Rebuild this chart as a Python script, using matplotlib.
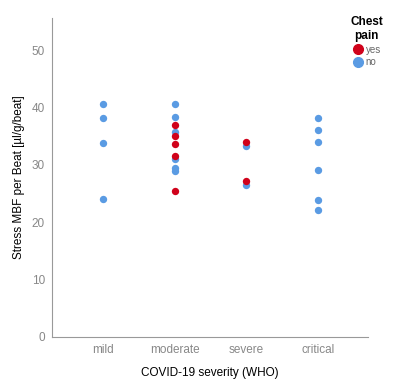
import matplotlib
matplotlib.use("Agg")
import matplotlib.pyplot as plt
from matplotlib.lines import Line2D

plt.rcParams['font.family'] = ['Liberation Sans', 'DejaVu Sans']

categories = ["mild", "moderate", "severe", "critical"]

# chest pain = no
no_cat = ["mild", "mild", "mild", "mild",
          "moderate", "moderate", "moderate", "moderate", "moderate", "moderate",
          "severe", "severe",
          "critical", "critical", "critical", "critical", "critical", "critical"]
no_val = [40.6, 38.2, 33.8, 24.0,
          40.6, 38.4, 35.7, 31.0, 29.4, 29.0,
          33.3, 26.5,
          38.1, 36.1, 34.0, 29.1, 23.9, 22.1]

# chest pain = yes
yes_cat = ["moderate", "moderate", "moderate", "moderate", "moderate",
           "severe", "severe"]
yes_val = [36.9, 35.0, 33.6, 31.6, 25.5,
           33.9, 27.1]

yticks = [0, 10, 20, 30, 40, 50]

blue = "#5A9BE3"
red = "#D0021B"

fig = plt.figure(figsize=(4.0, 3.82), dpi=100)
ax = fig.add_axes([0.13, 0.118, 0.79, 0.835])

xpos = {c: i for i, c in enumerate(categories)}
ax.scatter([xpos[c] for c in no_cat], no_val, s=28, color=blue, linewidths=0, zorder=3)
ax.scatter([xpos[c] for c in yes_cat], yes_val, s=28, color=red, linewidths=0, zorder=4)

ax.set_xlim(-0.71, 3.70)
ax.set_ylim(0, 55.6)
ax.set_xticks(range(len(categories)))
ax.set_xticklabels(categories)
ax.set_yticks(yticks)
ax.tick_params(axis='both', length=0, labelsize=8.5, labelcolor='#888888', pad=5)
for s in ['top', 'right']:
    ax.spines[s].set_visible(False)
for s in ['left', 'bottom']:
    ax.spines[s].set_color('#999999')
    ax.spines[s].set_linewidth(0.8)

ax.set_xlabel("COVID-19 severity (WHO)", fontsize=8.5, labelpad=8)
ax.set_ylabel("Stress MBF per Beat [µl/g/beat]", fontsize=8.5, labelpad=5)

handles = [Line2D([], [], marker='o', linestyle='', color=red, markersize=7, label='yes'),
           Line2D([], [], marker='o', linestyle='', color=blue, markersize=7, label='no')]
leg = fig.legend(handles=handles, title="Chest\npain", loc='upper right',
                 bbox_to_anchor=(0.975, 0.975), frameon=False, fontsize=7,
                 title_fontsize=8.5, handletextpad=0.3, labelspacing=0.25,
                 handlelength=1.0, borderaxespad=0.3)
leg.get_title().set_fontweight('bold')
leg.get_title().set_multialignment('center')
leg._legend_box.align = "center"
for t in leg.get_texts():
    t.set_color('#666666')

fig.savefig("out.png", dpi=100)
